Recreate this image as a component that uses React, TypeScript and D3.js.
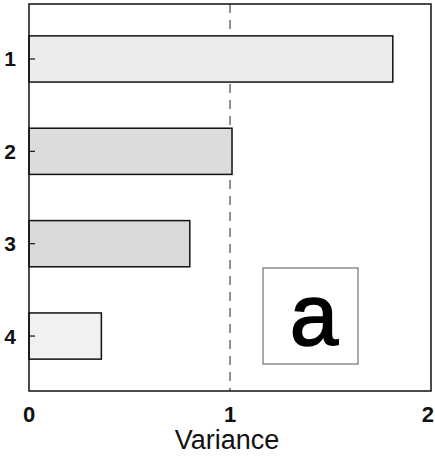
import * as d3 from "d3";

const CATEGORIES = ["1", "2", "3", "4"];
const VARIANCE = [1.81, 1.01, 0.8, 0.36];
const BAR_FILLS = ["#ececec", "#dcdcdc", "#d9d9d9", "#f1f1f1"];
const X_TICKS = [0, 1, 2];
const X_LABEL = "Variance";
const PANEL_LABEL = "a";

const W = 435;
const H = 462;
const M = { top: 4, right: 4, bottom: 71, left: 29 };

export default function App() {
  const x = d3.scaleLinear().domain([0, 2]).range([M.left, M.left + 402]);
  const y = d3
    .scaleBand<string>()
    .domain(CATEGORIES)
    .range([M.top, H - M.bottom])
    .paddingInner(0.5)
    .paddingOuter(0.345);

  const font = "Arial, 'Liberation Sans', sans-serif";
  const plotRight = W - M.right;
  const plotBottom = H - M.bottom;

  return (
    <svg
      width={W}
      height={H}
      style={{ position: "absolute", left: 0, top: 0, background: "#fff" }}
    >
      {/* dashed reference line at variance = 1 */}
      <line
        x1={x(1)}
        x2={x(1)}
        y1={M.top}
        y2={plotBottom}
        stroke="#222"
        strokeWidth={1}
        strokeDasharray="9,7"
      />

      {CATEGORIES.map((c, i) => (
        <rect
          key={c}
          x={x(0)}
          y={y(c)}
          width={x(VARIANCE[i]) - x(0)}
          height={y.bandwidth()}
          fill={BAR_FILLS[i]}
          stroke="#111"
          strokeWidth={1.5}
        />
      ))}

      {/* frame */}
      <rect
        x={M.left}
        y={M.top}
        width={plotRight - M.left}
        height={plotBottom - M.top}
        fill="none"
        stroke="#111"
        strokeWidth={1.5}
      />

      {/* y ticks and labels */}
      {CATEGORIES.map((c) => {
        const cy = (y(c) ?? 0) + y.bandwidth() / 2;
        return (
          <g key={c}>
            <line x1={M.left} x2={M.left + 6} y1={cy} y2={cy} stroke="#111" strokeWidth={1.2} />
            <text
              x={10}
              y={cy + 7.5}
              textAnchor="middle"
              fontFamily={font}
              fontWeight="bold"
              fontSize={21}
              fill="#111"
            >
              {c}
            </text>
          </g>
        );
      })}

      {/* x ticks and labels; the last one is pulled in so it stays on the page */}
      {X_TICKS.map((t, i) => {
        const last = i === X_TICKS.length - 1;
        return (
          <text
            key={t}
            x={last ? W - 1 : x(t)}
            y={422}
            textAnchor={last ? "end" : "middle"}
            fontFamily={font}
            fontWeight="bold"
            fontSize={22}
            fill="#111"
          >
            {t}
          </text>
        );
      })}

      <text
        x={227}
        y={449}
        textAnchor="middle"
        fontFamily={font}
        fontSize={27}
        fill="#111"
      >
        {X_LABEL}
      </text>

      {/* panel label */}
      <rect x={263} y={268} width={95} height={96} fill="#fff" stroke="#555" strokeWidth={1} />
      <text
        x={314}
        y={345}
        textAnchor="middle"
        fontFamily={font}
        fontSize={87}
        fill="#000"
        stroke="#000"
        strokeWidth={1.6}
      >
        {PANEL_LABEL}
      </text>
    </svg>
  );
}
